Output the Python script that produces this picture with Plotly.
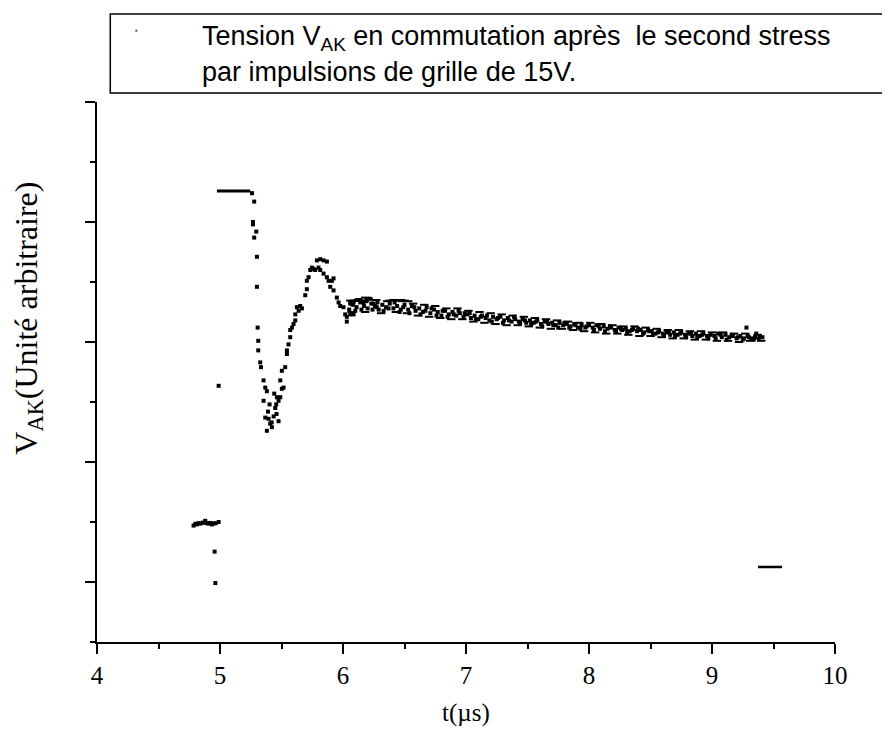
import plotly.graph_objects as go

# ---------------- data ----------------
# level before commutation (low cluster)
pre_x = [4.785, 4.80, 4.812, 4.825, 4.84, 4.86, 4.88, 4.895, 4.907, 4.92, 4.934, 4.95, 4.965, 4.989]
pre_y = [0.47, 0.485, 0.48, 0.49, 0.487, 0.495, 0.51, 0.49, 0.487, 0.492, 0.48, 0.488, 0.49, 0.50]
pre_line_x = [4.80, 4.95]
pre_line_y = [0.485, 0.488]

# isolated samples during the rising edge
edge_x = [4.956, 4.962, 4.989]
edge_y = [0.253, -0.009, 1.635]

# clipped plateau
plat_x = [4.975, 5.246]
plat_y = [3.258, 3.258]

# fall, undershoot, overshoot and settling
drop_x = [5.26, 5.278, 5.268, 5.268, 5.278, 5.295, 5.30, 5.30, 5.306, 5.311, 5.311, 5.327, 5.333,
          5.354, 5.368, 5.381, 5.354, 5.403, 5.441, 5.463, 5.457, 5.449, 5.476, 5.49, 5.503, 5.49,
          5.517, 5.503, 5.53, 5.544, 5.544, 5.557, 5.571, 5.571, 5.585, 5.598, 5.612, 5.612, 5.625,
          5.639, 5.652, 5.666, 5.693, 5.706, 5.706, 5.72, 5.734, 5.747, 5.761, 5.774, 5.788, 5.815,
          5.842, 5.869, 5.801, 5.815, 5.842, 5.869, 5.883, 5.91, 5.923, 5.896, 5.923, 5.95, 5.964,
          5.977, 6.004, 6.018, 6.031, 6.031, 6.059, 6.086, 6.059, 6.086, 6.113, 6.14, 6.167, 6.194,
          6.221, 6.248, 6.275,
          5.368, 5.395, 5.408, 5.381, 5.422, 5.436, 5.476, 5.39, 5.46, 5.42]
drop_y = [3.24, 3.17, 3.00, 2.98, 2.87, 2.92, 2.71, 2.46, 2.12, 2.01, 1.93, 1.83, 1.79,
          1.68, 1.62, 1.59, 1.51, 1.48, 1.57, 1.54, 1.48, 1.45, 1.51, 1.54, 1.61, 1.68,
          1.62, 1.76, 1.79, 1.90, 1.93, 1.98, 2.04, 2.10, 2.12, 2.15, 2.18, 2.23, 2.29,
          2.26, 2.30, 2.28, 2.39, 2.44, 2.51, 2.54, 2.60, 2.62, 2.61, 2.60, 2.68, 2.69,
          2.68, 2.67, 2.62, 2.60, 2.57, 2.54, 2.51, 2.51, 2.53, 2.46, 2.43, 2.37, 2.33,
          2.30, 2.29, 2.23, 2.21, 2.17, 2.23, 2.23, 2.32, 2.33, 2.35, 2.35, 2.33, 2.35,
          2.36, 2.32, 2.29,
          1.37, 1.36, 1.32, 1.26, 1.29, 1.38, 1.34, 1.42, 1.40, 1.33]

# slowly decaying tail (noisy band) - two central rows
tail_x = [6.05, 6.08, 6.11, 6.14, 6.17, 6.20, 6.23, 6.26, 6.29, 6.32, 6.35, 6.38, 6.41, 6.44, 6.47, 6.50,
          6.06, 6.10, 6.15, 6.19, 6.24, 6.28, 6.33, 6.37, 6.42, 6.46, 6.49,
          6.53, 6.56, 6.59, 6.62, 6.65, 6.68, 6.71, 6.74, 6.77, 6.80, 6.83, 6.86, 6.89, 6.92, 6.95, 6.98,
          6.54, 6.58, 6.63, 6.67, 6.72, 6.76, 6.81, 6.85, 6.90, 6.94, 6.99,
          7.01, 7.04, 7.07, 7.10, 7.13, 7.16, 7.19, 7.22, 7.25, 7.28, 7.31, 7.34, 7.37, 7.40, 7.43, 7.46, 7.49,
          7.03, 7.08, 7.12, 7.17, 7.21, 7.26, 7.30, 7.35, 7.39, 7.44, 7.48,
          7.52, 7.55, 7.58, 7.61, 7.64, 7.67, 7.70, 7.73, 7.76, 7.79, 7.82, 7.85, 7.88, 7.91, 7.94, 7.97, 8.00,
          7.53, 7.57, 7.62, 7.66, 7.71, 7.75, 7.80, 7.84, 7.89, 7.93, 7.98,
          8.03, 8.06, 8.09, 8.12, 8.15, 8.18, 8.21, 8.24, 8.27, 8.30, 8.33, 8.36, 8.39, 8.42, 8.45, 8.48,
          8.04, 8.08, 8.13, 8.17, 8.22, 8.26, 8.31, 8.35, 8.40, 8.44, 8.49,
          8.51, 8.54, 8.57, 8.60, 8.63, 8.66, 8.69, 8.72, 8.75, 8.78, 8.81, 8.84, 8.87, 8.90, 8.93, 8.96, 8.99,
          8.52, 8.56, 8.61, 8.65, 8.70, 8.74, 8.79, 8.83, 8.88, 8.92, 8.97,
          9.02, 9.05, 9.08, 9.11, 9.14, 9.17, 9.20, 9.23, 9.26, 9.29, 9.32, 9.35, 9.38, 9.41,
          9.03, 9.07, 9.12, 9.16, 9.21, 9.25, 9.30, 9.34, 9.39, 9.36, 9.28]
tail_y = [2.27, 2.31, 2.29, 2.33, 2.30, 2.28, 2.32, 2.30, 2.27, 2.31, 2.29, 2.32, 2.28, 2.30, 2.27, 2.31,
          2.33, 2.26, 2.27, 2.34, 2.27, 2.33, 2.26, 2.28, 2.33, 2.25, 2.29,
          2.27, 2.30, 2.26, 2.28, 2.25, 2.29, 2.24, 2.27, 2.25, 2.22, 2.26, 2.23, 2.25, 2.22, 2.24, 2.21,
          2.24, 2.29, 2.23, 2.26, 2.28, 2.22, 2.26, 2.21, 2.23, 2.26, 2.24,
          2.23, 2.20, 2.22, 2.19, 2.22, 2.20, 2.18, 2.21, 2.19, 2.21, 2.18, 2.20, 2.17, 2.19, 2.17, 2.19, 2.16,
          2.24, 2.19, 2.21, 2.22, 2.17, 2.20, 2.16, 2.18, 2.21, 2.16, 2.18,
          2.18, 2.16, 2.18, 2.15, 2.17, 2.15, 2.16, 2.14, 2.16, 2.14, 2.15, 2.13, 2.15, 2.12, 2.14, 2.12, 2.14,
          2.15, 2.17, 2.13, 2.17, 2.14, 2.12, 2.16, 2.12, 2.14, 2.11, 2.13,
          2.12, 2.14, 2.11, 2.13, 2.11, 2.12, 2.10, 2.12, 2.10, 2.11, 2.09, 2.11, 2.09, 2.10, 2.08, 2.10,
          2.10, 2.13, 2.09, 2.13, 2.09, 2.11, 2.08, 2.10, 2.11, 2.07, 2.09,
          2.09, 2.07, 2.09, 2.07, 2.08, 2.06, 2.08, 2.06, 2.08, 2.06, 2.07, 2.05, 2.07, 2.05, 2.07, 2.05, 2.06,
          2.06, 2.08, 2.05, 2.08, 2.05, 2.07, 2.04, 2.07, 2.04, 2.06, 2.03,
          2.05, 2.07, 2.04, 2.06, 2.04, 2.05, 2.03, 2.05, 2.03, 2.05, 2.03, 2.04, 2.03, 2.04,
          2.03, 2.06, 2.02, 2.06, 2.04, 2.02, 2.04, 2.02, 2.05, 2.07, 2.12]

# outer edges of the noisy band (short dashes)
edge_band_x = [6.07, 6.13, 6.18, 6.27, 6.31, 6.36, 6.43, 6.48, 6.52, 6.57, 6.61, 6.66, 6.70, 6.75, 6.79,
               6.84, 6.88, 6.93, 6.97, 7.02, 7.06, 7.11, 7.15, 7.20, 7.24, 7.29, 7.33, 7.38, 7.42, 7.47,
               7.51, 7.56, 7.60, 7.65, 7.69, 7.74, 7.78, 7.83, 7.87, 7.92, 7.96, 8.01, 8.05, 8.10, 8.14,
               8.19, 8.23, 8.28, 8.32, 8.37, 8.41, 8.46, 8.50, 8.55, 8.59, 8.64, 8.68, 8.73, 8.77, 8.82,
               8.86, 8.91, 8.95, 9.00, 9.04, 9.09, 9.13, 9.18, 9.22, 9.27, 9.31, 9.37, 9.40]
edge_band_y = [2.25, 2.35, 2.25, 2.35, 2.24, 2.34, 2.25, 2.34, 2.24, 2.32, 2.22, 2.31, 2.21, 2.30, 2.20,
               2.28, 2.19, 2.28, 2.19, 2.26, 2.17, 2.25, 2.16, 2.24, 2.15, 2.23, 2.14, 2.22, 2.14, 2.21,
               2.13, 2.20, 2.12, 2.19, 2.11, 2.18, 2.11, 2.17, 2.10, 2.16, 2.09, 2.16, 2.08, 2.15, 2.07,
               2.14, 2.07, 2.13, 2.06, 2.13, 2.05, 2.12, 2.05, 2.11, 2.04, 2.10, 2.03, 2.10, 2.03, 2.09,
               2.02, 2.09, 2.02, 2.08, 2.01, 2.08, 2.01, 2.07, 2.00, 2.07, 2.01, 2.06, 2.01]

# short upper dashes in the band
dash_up_x = [6.06, 6.09, 6.12, 6.15, 6.18, 6.21, 6.38, 6.41, 6.44, 6.47, 6.50, 6.53]
dash_up_y = [2.345, 2.345, 2.35, 2.345, 2.37, 2.36, 2.345, 2.35, 2.345, 2.35, 2.345, 2.34]

# isolated short trace near the end
end_x = [9.374, 9.57]
end_y = [0.125, 0.125]

x_ticks = [4, 5, 6, 7, 8, 9, 10]
x_minor = [4.5, 5.5, 6.5, 7.5, 8.5, 9.5]
y_ticks = [0, 1, 2, 3, 4]
y_minor = [-0.5, 0.5, 1.5, 2.5, 3.5]

# ---------------- figure ----------------
INK = "#000000"
pt = dict(color=INK, size=4, symbol="square")
dash_mk = dict(color=INK, size=6, symbol="line-ew-open", line=dict(width=2, color=INK))

fig = go.Figure()
fig.add_trace(go.Scatter(x=pre_line_x, y=pre_line_y, mode="lines", line=dict(color=INK, width=2)))
fig.add_trace(go.Scatter(x=pre_x, y=pre_y, mode="markers", marker=pt))
fig.add_trace(go.Scatter(x=edge_x, y=edge_y, mode="markers", marker=pt))
fig.add_trace(go.Scatter(x=plat_x, y=plat_y, mode="lines", line=dict(color=INK, width=3)))
fig.add_trace(go.Scatter(x=drop_x, y=drop_y, mode="markers", marker=pt))
fig.add_trace(go.Scatter(x=tail_x, y=tail_y, mode="markers", marker=pt))
fig.add_trace(go.Scatter(x=edge_band_x, y=edge_band_y, mode="markers", marker=dash_mk))
fig.add_trace(go.Scatter(x=dash_up_x, y=dash_up_y, mode="markers", marker=dash_mk))
fig.add_trace(go.Scatter(x=end_x, y=end_y, mode="lines", line=dict(color=INK, width=2.5)))

serif = "Liberation Serif, Times New Roman, serif"
sans = "Liberation Sans, Arial, sans-serif"

axis_common = dict(showline=True, linecolor=INK, linewidth=2, showgrid=False, zeroline=False,
                   ticks="outside", ticklen=10, tickwidth=2, tickcolor=INK)

# the page body has an 8 px default margin: margins are reduced by 8 px so the
# plot area lands at page x 97..835 and y 102..642
fig.update_layout(
    width=890, height=731,
    margin=dict(l=89, r=63, t=94, b=97),
    paper_bgcolor="white", plot_bgcolor="white",
    showlegend=False,
    xaxis=dict(range=[4, 10], tickvals=x_ticks, ticktext=[str(v) for v in x_ticks],
               tickfont=dict(family=serif, size=25, color=INK), ticklabelstandoff=0,
               minor=dict(tickvals=x_minor, ticks="outside", ticklen=5, tickwidth=2, tickcolor=INK, showgrid=False),
               **axis_common),
    yaxis=dict(range=[-0.5, 4], tickvals=y_ticks, showticklabels=False,
               minor=dict(tickvals=y_minor, ticks="outside", ticklen=5, tickwidth=2, tickcolor=INK, showgrid=False),
               **axis_common),
)

# axis titles
fig.add_annotation(text="t(µs)", xref="paper", yref="paper", x=0.5, y=-0.131,
                   xanchor="center", yanchor="middle", showarrow=False,
                   font=dict(family=serif, size=25, color=INK))
fig.add_annotation(text="V<sub>AK</sub>(Unité arbitraire)", xref="paper", yref="paper",
                   x=-0.094, y=0.60, xanchor="center", yanchor="middle", textangle=-90,
                   showarrow=False, font=dict(family=serif, size=32, color=INK))

# legend-like box
fig.add_shape(type="rect", xref="paper", yref="paper", x0=0.018, x1=1.0718, y0=1.0167, y1=1.163,
              line=dict(color=INK, width=1.5), fillcolor="rgba(0,0,0,0)")
fig.add_shape(type="rect", xref="paper", yref="paper", x0=0.052, x1=0.0545, y0=1.130, y1=1.134,
              line=dict(width=0), fillcolor="#555555")
fig.add_annotation(text="Tension V<sub>AK</sub> en commutation après  le second stress",
                   xref="paper", yref="paper", x=0.139, y=1.1185, xanchor="left", yanchor="middle",
                   showarrow=False, font=dict(family=sans, size=27, color=INK))
fig.add_annotation(text="par impulsions de grille de 15V.",
                   xref="paper", yref="paper", x=0.139, y=1.0556, xanchor="left", yanchor="middle",
                   showarrow=False, font=dict(family=sans, size=27, color=INK))
# cut-off caption line at the very top of the page
fig.add_annotation(text="<b>mage au bruit.</b>", xref="paper", yref="paper", x=0.25, y=1.19,
                   xanchor="left", yanchor="bottom", showarrow=False,
                   font=dict(family=serif, size=22, color=INK))

fig.write_html("out.html")
